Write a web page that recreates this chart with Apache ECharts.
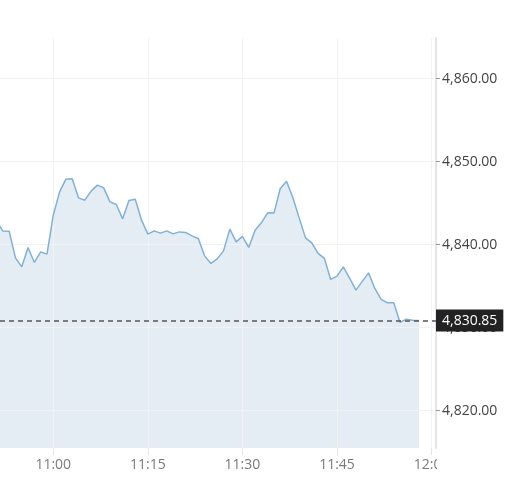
<!DOCTYPE html>
<html>
<head>
<meta charset="utf-8">
<script src="https://cdn.jsdelivr.net/npm/echarts@6/dist/echarts.min.js"></script>
<style>
  html, body { margin: 0; padding: 0; background: #fff; }
  #chart { width: 523px; height: 498px; }
</style>
</head>
<body>
<div id="chart"></div>
<script>
  // minute-by-minute index values
  var times = ['10:51', '10:52', '10:53', '10:54', '10:55', '10:56', '10:57', '10:58', '10:59',
    '11:00', '11:01', '11:02', '11:03', '11:04', '11:05', '11:06', '11:07', '11:08', '11:09',
    '11:10', '11:11', '11:12', '11:13', '11:14', '11:15', '11:16', '11:17', '11:18', '11:19',
    '11:20', '11:21', '11:22', '11:23', '11:24', '11:25', '11:26', '11:27', '11:28', '11:29',
    '11:30', '11:31', '11:32', '11:33', '11:34', '11:35', '11:36', '11:37', '11:38', '11:39',
    '11:40', '11:41', '11:42', '11:43', '11:44', '11:45', '11:46', '11:47', '11:48', '11:49',
    '11:50', '11:51', '11:52', '11:53', '11:54', '11:55', '11:56', '11:57', '11:58'];
  var prices = [4842.8, 4841.66, 4841.63, 4838.41, 4837.33, 4839.66, 4837.86, 4839.13, 4838.86,
    4843.55, 4846.36, 4847.89, 4847.93, 4845.64, 4845.36, 4846.45, 4847.17, 4846.84, 4845.16,
    4844.84, 4843.11, 4845.33, 4845.48, 4842.95, 4841.27, 4841.66, 4841.39, 4841.66, 4841.30,
    4841.54, 4841.47, 4841.06, 4840.75, 4838.65, 4837.73, 4838.29, 4839.25, 4841.87, 4840.34,
    4840.99, 4839.66, 4841.75, 4842.63, 4843.83, 4843.80, 4846.77, 4847.65, 4845.64, 4843.23,
    4840.82, 4840.22, 4838.94, 4838.34, 4835.81, 4836.20, 4837.33, 4835.96, 4834.52, 4835.57,
    4836.60, 4834.72, 4833.40, 4832.99, 4832.99, 4830.63, 4831.02, 4830.90, 4830.85];
  var lastPrice = 4830.85;
  var xTicks = ['11:00', '11:15', '11:30', '11:45', '12:00'];
  var yTicks = [4820, 4830, 4840, 4850, 4860];

  function toMin(s) {
    var p = s.split(':');
    return +p[0] * 60 + +p[1];
  }
  function fmtTime(v) {
    var h = Math.floor(v / 60), m = Math.round(v % 60);
    return h + ':' + (m < 10 ? '0' : '') + m;
  }
  function fmtPrice(v) {
    return v.toLocaleString('en-US', { minimumFractionDigits: 2, maximumFractionDigits: 2 });
  }

  var seriesData = times.map(function (t, i) { return [toMin(t), prices[i]]; });
  var xTickVals = xTicks.map(toMin);

  var chart = echarts.init(document.getElementById('chart'));
  chart.setOption({
    animation: false,
    textStyle: { fontFamily: 'Open Sans' },
    grid: { left: 0, right: 87, top: 38, bottom: 50 },
    xAxis: {
      type: 'value',
      min: 651.55,
      max: 720.7,
      z: 3,
      axisLine: { show: false },
      axisTick: { show: true, length: 7, lineStyle: { color: '#e6e6e6' }, customValues: xTickVals },
      axisLabel: { customValues: xTickVals, formatter: fmtTime, color: '#7a7a7a', fontSize: 14, margin: 10 },
      splitLine: { show: true, lineStyle: { color: '#f2f2f2' } }
    },
    yAxis: {
      type: 'value',
      position: 'right',
      min: 4815.5,
      max: 4864.9,
      z: 3,
      axisLine: { show: true, lineStyle: { color: '#e3e5ee', width: 2 } },
      axisTick: { show: true, length: 4, lineStyle: { color: '#999' }, customValues: yTicks },
      axisLabel: { customValues: yTicks, formatter: fmtPrice, color: '#444', fontSize: 14, margin: 6 },
      splitLine: { show: true, lineStyle: { color: '#f2f2f2' } }
    },
    series: [
      {
        type: 'line',
        z: 1,
        data: seriesData,
        symbol: 'none',
        lineStyle: { width: 0 },
        areaStyle: { color: '#e4edf4', opacity: 1 }
      },
      {
        type: 'line',
        z: 4,
        data: seriesData,
        symbol: 'none',
        lineStyle: { color: '#80b1d8', width: 1.5 },
        markLine: {
          silent: true,
          symbol: 'none',
          lineStyle: { color: '#555', type: [5, 4], width: 1.5 },
          label: {
            position: 'end',
            distance: 0,
            formatter: fmtPrice(lastPrice),
            color: '#fff',
            backgroundColor: '#222',
            fontSize: 14,
            padding: [4, 6]
          },
          data: [{ yAxis: lastPrice }]
        }
      }
    ],
    graphic: [{
      type: 'rect',
      z: 100,
      shape: { x: 437, y: 452, width: 86, height: 40 },
      style: { fill: '#fff' }
    }]
  });
</script>
</body>
</html>
